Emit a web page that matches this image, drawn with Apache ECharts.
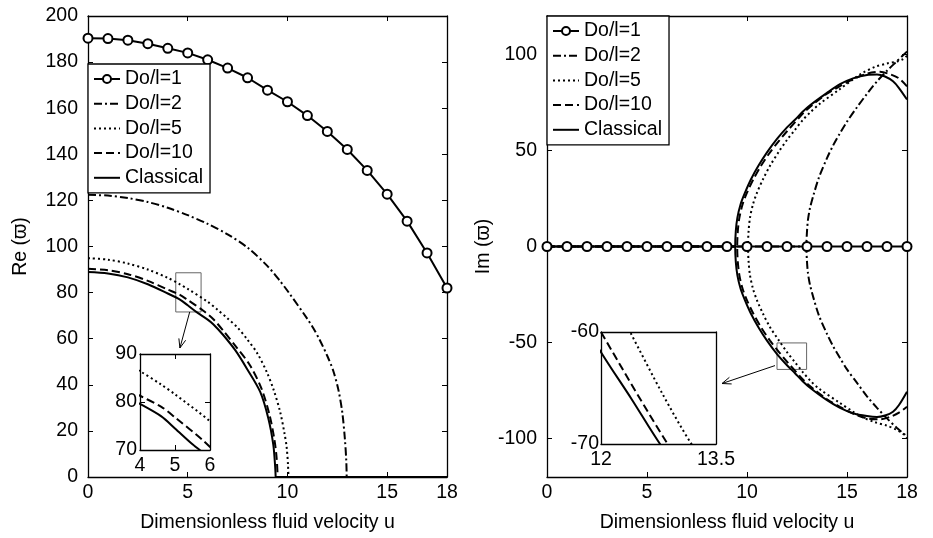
<!DOCTYPE html>
<html>
<head>
<meta charset="utf-8">
<script src="https://cdn.jsdelivr.net/npm/echarts@6/dist/echarts.min.js"></script>
<style>
  html, body { margin: 0; padding: 0; background: #fff; }
  #chart { width: 933px; height: 538px; }
</style>
</head>
<body>
<div id="chart"></div>
<script>
// ---- names and tick labels ----
const SERIES_NAMES = ['Do/l=1', 'Do/l=2', 'Do/l=5', 'Do/l=10', 'Classical'];
const X_TICKS = [0, 5, 10, 15, 18];
const RE_TICKS = [0, 20, 40, 60, 80, 100, 120, 140, 160, 180, 200];
const IM_TICKS = [-100, -50, 0, 50, 100];
const X_TITLE = 'Dimensionless fluid velocity u';
const RE_TITLE = 'Re (\u03D6)';
const IM_TITLE = 'Im (\u03D6)';

// ---- real part: Re(ϖ) vs u ----
const U_STEPS = [0, 1, 2, 3, 4, 5, 6, 7, 8, 9, 10, 11, 12, 13, 14, 15, 16, 17, 18];
const RE_DO1 = [190.4, 190.2, 189.5, 188.0, 186.0, 184.0, 181.0, 177.4, 173.2, 167.8,
                162.8, 156.8, 149.9, 142.1, 133.0, 122.7, 111.0, 97.2, 82.0];
const RE_DO2 = [[0, 122.4], [1, 122.1], [2, 121.0], [3, 119.3], [4, 116.8], [5, 113.6],
                [6, 109.8], [7, 105.3], [8, 99.5], [9, 91.5], [9.63, 85.0], [10, 80.8],
                [11, 68.6], [11.3, 64.5], [11.6, 59.8], [12, 52.5], [12.3, 46.0], [12.55, 38.0],
                [12.75, 28.0], [12.88, 16.5], [12.95, 7.0], [12.97, 0]];
const RE_DO5 = [[0, 94.9], [1, 94.3], [2, 92.6], [3, 90.0], [4, 86.4], [4.61, 83.6],
                [5, 81.6], [6, 76.0], [6.5, 72.5], [7, 68.8], [7.5, 64.8], [7.96, 60.0],
                [8.5, 53.5], [8.96, 45.6], [9.3, 38.0], [9.63, 28.4], [9.85, 19.0],
                [9.96, 13.0], [10.03, 5.0], [10.05, 0]];
const RE_DO10 = [[0, 90.3], [1, 89.7], [2, 88.0], [3, 85.1], [4, 81.3], [4.61, 79.0],
                 [5, 76.8], [5.8, 72.0], [6.3, 68.3], [6.8, 63.3], [7.4, 56.8], [8.12, 48.5],
                 [8.7, 38.3], [9.1, 27.0], [9.35, 16.0], [9.46, 8.0], [9.51, 0]];
const RE_CLASSICAL = [[0, 88.9], [1, 88.3], [2, 86.6], [3, 83.6], [4, 79.6], [4.61, 77.0],
                      [5, 74.5], [5.5, 71.2], [6, 68.3], [6.28, 66.3], [6.79, 61.5], [7.4, 54.8],
                      [7.96, 47.1], [8.63, 37.0], [9.04, 25.5], [9.29, 14.0], [9.38, 5.0],
                      [9.41, 0]];
// beyond the critical speed the real part stays at zero
const RE_DO2_ZERO = [[12.97, 0], [18, 0]];
const RE_DO5_ZERO = [[10.05, 0], [18, 0]];
const RE_DO10_ZERO = [[9.51, 0], [18, 0]];
const RE_CL_ZERO = [[9.41, 0], [18, 0]];

// ---- imaginary part: Im(ϖ) vs u (zero up to the critical speed, then two branches) ----
const IM_DO1 = [0, 0, 0, 0, 0, 0, 0, 0, 0, 0, 0, 0, 0, 0, 0, 0, 0, 0, 0];
const IM_DO2_ZERO = [[0, 0], [12.97, 0]];
const IM_DO2_UP = [[12.97, 0], [13.0, 8], [13.05, 14], [13.15, 20], [13.33, 27], [13.6, 36],
                   [14.0, 46], [14.3, 52.5], [14.65, 59], [15.0, 65], [15.5, 72.5], [16.0, 79.5],
                   [16.5, 86], [17.0, 91.5], [17.5, 96.5], [17.9, 100.5], [18, 101.5]];
const IM_DO2_LOW = [[12.97, 0], [13.0, -8], [13.05, -14], [13.15, -20], [13.33, -27], [13.6, -36],
                    [14.0, -45.5], [14.3, -51.8], [14.65, -58], [15.0, -64], [15.5, -71], [16.0, -78],
                    [16.5, -84], [17.0, -89.5], [17.5, -94.5], [17.9, -98], [18, -99]];
const IM_DO5_ZERO = [[0, 0], [10.05, 0]];
const IM_DO5_UP = [[10.05, 0], [10.08, 8], [10.15, 15], [10.3, 22], [10.5, 28], [10.8, 35],
                   [11.15, 42], [11.6, 49.5], [12.0, 55.5], [12.38, 60.5], [12.8, 66], [13.18, 70],
                   [13.6, 74], [14.65, 82], [15.3, 87], [15.8, 90.5], [16.4, 93.5], [17.0, 95.3],
                   [17.5, 96.3], [17.8, 97.5], [18, 99.3]];
const IM_DO5_LOW = [[10.05, 0], [10.08, -8], [10.15, -15], [10.3, -22], [10.5, -28], [10.8, -35],
                    [11.15, -42], [11.6, -49], [12.0, -55], [12.38, -60], [12.8, -65.5], [13.18, -70],
                    [13.6, -74], [14.65, -81.5], [15.3, -86], [15.8, -89], [16.4, -91.5], [17.0, -93.3],
                    [17.5, -95.5], [17.8, -97.5], [18, -99.8]];
const IM_DO10_ZERO = [[0, 0], [9.51, 0]];
const IM_DO10_UP = [[9.51, 0], [9.54, 8], [9.62, 15], [9.78, 22], [10.0, 28], [10.32, 35],
                    [10.7, 42], [11.15, 49], [11.6, 55], [12.0, 60], [12.87, 70], [13.3, 74],
                    [14.0, 79.5], [14.65, 83.5], [15.3, 87], [16.0, 90], [16.65, 91],
                    [17.2, 89.5], [17.6, 87.5], [18, 83.4]];
const IM_DO10_LOW = [[9.51, 0], [9.54, -8], [9.62, -15], [9.78, -22], [10.0, -28], [10.32, -35],
                     [10.7, -42], [11.15, -49], [11.6, -55], [12.0, -60], [12.87, -70], [13.3, -74],
                     [14.0, -79.5], [14.65, -83.5], [15.3, -87], [16.0, -89.5], [16.65, -90],
                     [17.2, -88.5], [17.6, -86.5], [18, -83.4]];
const IM_CL_ZERO = [[0, 0], [9.41, 0]];
const IM_CL_UP = [[9.41, 0], [9.44, 8], [9.52, 15], [9.68, 22], [9.9, 28], [10.2, 35],
                  [10.57, 42], [11.0, 49], [11.5, 56], [12.0, 62], [12.4, 66], [12.77, 70],
                  [13.15, 73.5], [14.0, 80], [14.65, 84.5], [15.3, 87.5], [16.0, 89.3],
                  [16.5, 89.5], [16.9, 88.5], [17.3, 86], [17.6, 82.5], [18, 76.5]];
const IM_CL_LOW = [[9.41, 0], [9.44, -8], [9.52, -15], [9.68, -22], [9.9, -28], [10.2, -35],
                   [10.57, -42], [11.0, -49], [11.5, -56], [12.0, -61.8], [12.4, -66], [12.77, -70],
                   [13.15, -73.5], [14.0, -80], [14.65, -84], [15.3, -86.8], [16.0, -88.3],
                   [16.5, -88.8], [16.9, -88], [17.3, -86], [17.6, -82.5], [18, -75.6]];

// ---- zoom windows and the boxes marking them on the main plots ----
const RE_ZOOM_X = [4, 6], RE_ZOOM_Y = [70, 90];
const RE_ZOOM_XLABELS = [4, 5, 6], RE_ZOOM_YLABELS = [70, 80, 90];
const IM_ZOOM_X = [12, 13.5], IM_ZOOM_Y = [-70, -60];
const RE_BOX = [[4.4, 88.6], [5.67, 71.6]];
const IM_BOX = [[11.5, -50.2], [12.98, -64.0]];

// ---- styling ----
const FONT = "'Liberation Sans', Arial, Helvetica, sans-serif";
const FS = 19.5;
const INK = '#000';
const DASH = {
  'Do/l=1': 'solid',
  'Do/l=2': [8, 3, 2, 3],
  'Do/l=5': [2, 3],
  'Do/l=10': [8, 4],
  'Classical': 'solid'
};
const SMOOTH = 0.3;

const pairs = (xs, ys) => xs.map((x, i) => [x, ys[i]]);
// upper branch traced backwards then lower branch forwards: one "C" shaped path
const bend = (up, low) => up.slice().reverse().concat(low.slice(1));

function line(name, data, gi, extra) {
  return Object.assign({
    name: name,
    type: 'line',
    xAxisIndex: gi,
    yAxisIndex: gi,
    data: data,
    symbol: 'none',
    showSymbol: false,
    clip: true,
    silent: true,
    lineStyle: { color: INK, width: 2, type: DASH[name] },
    itemStyle: { color: INK },
    emphasis: { disabled: true },
    animation: false
  }, extra || {});
}
const curve = (name, data, gi, extra) => line(name, data, gi, Object.assign({ smooth: SMOOTH }, extra || {}));

function markerLine(gi, data) {
  return line('Do/l=1', data, gi, {
    symbol: 'emptyCircle',
    showSymbol: true,
    symbolSize: 9,
    itemStyle: { color: INK, borderWidth: 2 },
    z: 3
  });
}

function boxArea(box) {
  return {
    silent: true,
    itemStyle: { color: 'rgba(0,0,0,0)', borderColor: '#666', borderWidth: 1 },
    data: [[{ coord: box[0] }, { coord: box[1] }]]
  };
}

const axisLine = { show: true, onZero: false, lineStyle: { color: INK, width: 1.3 } };
const labelStyle = { color: INK, fontFamily: FONT, fontSize: FS };
const tickStyle = (ticks) => ticks
  ? { show: true, inside: true, length: 5, customValues: ticks, lineStyle: { color: INK } }
  : { show: false };

function xPair(gi, range, ticks, labels, withName, z) {
  const base = { gridIndex: gi, type: 'value', min: range[0], max: range[1], splitLine: { show: false }, z: z || 0 };
  const bottom = Object.assign({}, base, {
    position: 'bottom',
    axisLine: axisLine,
    axisTick: tickStyle(ticks),
    axisLabel: Object.assign({ customValues: labels, margin: 6 }, labelStyle)
  });
  if (withName) {
    Object.assign(bottom, {
      name: X_TITLE, nameLocation: 'middle', nameGap: 36,
      nameTextStyle: { color: INK, fontFamily: FONT, fontSize: FS }
    });
  }
  const top = Object.assign({}, base, {
    position: 'top', axisLine: axisLine, axisTick: tickStyle(ticks), axisLabel: { show: false }
  });
  return [bottom, top];
}

function yPair(gi, range, ticks, labels, name, nameGap, z, labelMargin) {
  const base = { gridIndex: gi, type: 'value', min: range[0], max: range[1], splitLine: { show: false }, z: z || 0 };
  const left = Object.assign({}, base, {
    position: 'left',
    axisLine: axisLine,
    axisTick: tickStyle(ticks),
    axisLabel: Object.assign({ customValues: labels, margin: labelMargin }, labelStyle)
  });
  if (name) {
    Object.assign(left, {
      name: name, nameLocation: 'middle', nameGap: nameGap,
      nameTextStyle: { color: INK, fontFamily: FONT, fontSize: FS }
    });
  }
  const right = Object.assign({}, base, {
    position: 'right', axisLine: axisLine, axisTick: tickStyle(ticks), axisLabel: { show: false }
  });
  return [left, right];
}

const xAxes = [].concat(
  xPair(0, [0, 18], [5, 10, 15], X_TICKS, true),
  xPair(1, [0, 18], [5, 10, 15], X_TICKS, true),
  xPair(2, RE_ZOOM_X, [5], RE_ZOOM_XLABELS, false, 11),
  xPair(3, IM_ZOOM_X, null, IM_ZOOM_X, false, 11)
);
const yAxes = [].concat(
  yPair(0, [0, 200], RE_TICKS, RE_TICKS, RE_TITLE, 57, 0, 10),
  yPair(1, [-120, 120], IM_TICKS, IM_TICKS, IM_TITLE, 34, 0, 10),
  yPair(2, RE_ZOOM_Y, [80], RE_ZOOM_YLABELS, null, 0, 11, 3),
  yPair(3, IM_ZOOM_Y, null, IM_ZOOM_Y, null, 0, 11, 2)
);

// axis indices: each grid owns a bottom/top x pair and a left/right y pair
const AX = [0, 2, 4, 6];

const series = [
  // Re(ϖ) main plot
  curve('Do/l=2', RE_DO2, AX[0]),
  curve('Do/l=5', RE_DO5, AX[0]),
  curve('Do/l=10', RE_DO10, AX[0]),
  curve('Classical', RE_CLASSICAL, AX[0], { markArea: boxArea(RE_BOX) }),
  line('Do/l=2', RE_DO2_ZERO, AX[0]),
  line('Do/l=5', RE_DO5_ZERO, AX[0]),
  line('Do/l=10', RE_DO10_ZERO, AX[0]),
  line('Classical', RE_CL_ZERO, AX[0]),
  markerLine(AX[0], pairs(U_STEPS, RE_DO1)),
  // Im(ϖ) main plot
  line('Do/l=2', IM_DO2_ZERO, AX[1]),
  line('Do/l=5', IM_DO5_ZERO, AX[1]),
  line('Do/l=10', IM_DO10_ZERO, AX[1]),
  line('Classical', IM_CL_ZERO, AX[1]),
  curve('Do/l=2', bend(IM_DO2_UP, IM_DO2_LOW), AX[1]),
  curve('Do/l=5', bend(IM_DO5_UP, IM_DO5_LOW), AX[1]),
  curve('Do/l=10', bend(IM_DO10_UP, IM_DO10_LOW), AX[1]),
  curve('Classical', bend(IM_CL_UP, IM_CL_LOW), AX[1], { markArea: boxArea(IM_BOX) }),
  markerLine(AX[1], pairs(U_STEPS, IM_DO1)),
  // Re(ϖ) zoom
  curve('Do/l=5', RE_DO5, AX[2], { z: 12 }),
  curve('Do/l=10', RE_DO10, AX[2], { z: 12 }),
  curve('Classical', RE_CLASSICAL, AX[2], { z: 12 }),
  // Im(ϖ) zoom
  curve('Do/l=5', IM_DO5_LOW, AX[3], { z: 12 }),
  curve('Do/l=10', IM_DO10_LOW, AX[3], { z: 12 }),
  curve('Classical', IM_CL_LOW, AX[3], { z: 12 })
];

// only the first entry carries a marker; the others show their line pattern alone
const legendItems = SERIES_NAMES.map((n, i) => i === 0
  ? { name: n }
  : { name: n, itemStyle: { color: 'rgba(0,0,0,0)', borderColor: 'rgba(0,0,0,0)', borderWidth: 0, opacity: 0 } });

function legendAt(left, top) {
  return {
    data: legendItems,
    orient: 'vertical',
    left: left,
    top: top,
    backgroundColor: '#fff',
    borderColor: INK,
    borderWidth: 1.3,
    borderRadius: 0,
    padding: [5, 7, 5, 5],
    itemWidth: 26,
    itemHeight: 10,
    itemGap: 4.7,
    selectedMode: false,
    textStyle: { color: INK, fontFamily: FONT, fontSize: FS, lineHeight: 20 },
    z: 20
  };
}

const chart = echarts.init(document.getElementById('chart'), null, { renderer: 'canvas' });
chart.setOption({
  backgroundColor: '#fff',
  animation: false,
  textStyle: { fontFamily: FONT },
  grid: [
    { left: 88, top: 16, width: 359, height: 463 },
    { left: 547, top: 16, width: 360, height: 463 },
    { left: 140, top: 354, width: 70, height: 96, show: true, backgroundColor: '#fff', borderWidth: 0, z: 10 },
    { left: 601, top: 332, width: 115, height: 112, show: true, backgroundColor: '#fff', borderWidth: 0, z: 10 }
  ],
  legend: [legendAt(88, 64), legendAt(547, 16)],
  xAxis: xAxes,
  yAxis: yAxes,
  series: series
});

// pointers from the marked boxes to the zoomed views
function arrow(from, to) {
  const dx = to[0] - from[0], dy = to[1] - from[1];
  const len = Math.sqrt(dx * dx + dy * dy);
  const ux = dx / len, uy = dy / len;
  const h = 9, w = 3.5;
  const bx = to[0] - ux * h, by = to[1] - uy * h;
  return [
    { type: 'line', shape: { x1: from[0], y1: from[1], x2: to[0], y2: to[1] },
      style: { stroke: INK, lineWidth: 1 }, z: 30, silent: true },
    { type: 'polyline', shape: { points: [[bx - uy * w, by + ux * w], to, [bx + uy * w, by - ux * w]] },
      style: { stroke: INK, lineWidth: 1, fill: null }, z: 30, silent: true }
  ];
}
const reFrom = chart.convertToPixel({ xAxisIndex: AX[0], yAxisIndex: AX[0] }, [5.1, RE_BOX[1][1]]);
const reTo = chart.convertToPixel({ xAxisIndex: AX[2], yAxisIndex: AX[2] }, [5.14, RE_ZOOM_Y[1]]);
reTo[1] -= 6;
const imFrom = chart.convertToPixel({ xAxisIndex: AX[1], yAxisIndex: AX[1] }, [IM_BOX[0][0] - 0.1, -62]);
const imTo = chart.convertToPixel({ xAxisIndex: AX[3], yAxisIndex: AX[3] }, [IM_ZOOM_X[1], -64.6]);
imTo[0] += 6;
chart.setOption({ graphic: arrow(reFrom, reTo).concat(arrow(imFrom, imTo)) });
</script>
</body>
</html>
